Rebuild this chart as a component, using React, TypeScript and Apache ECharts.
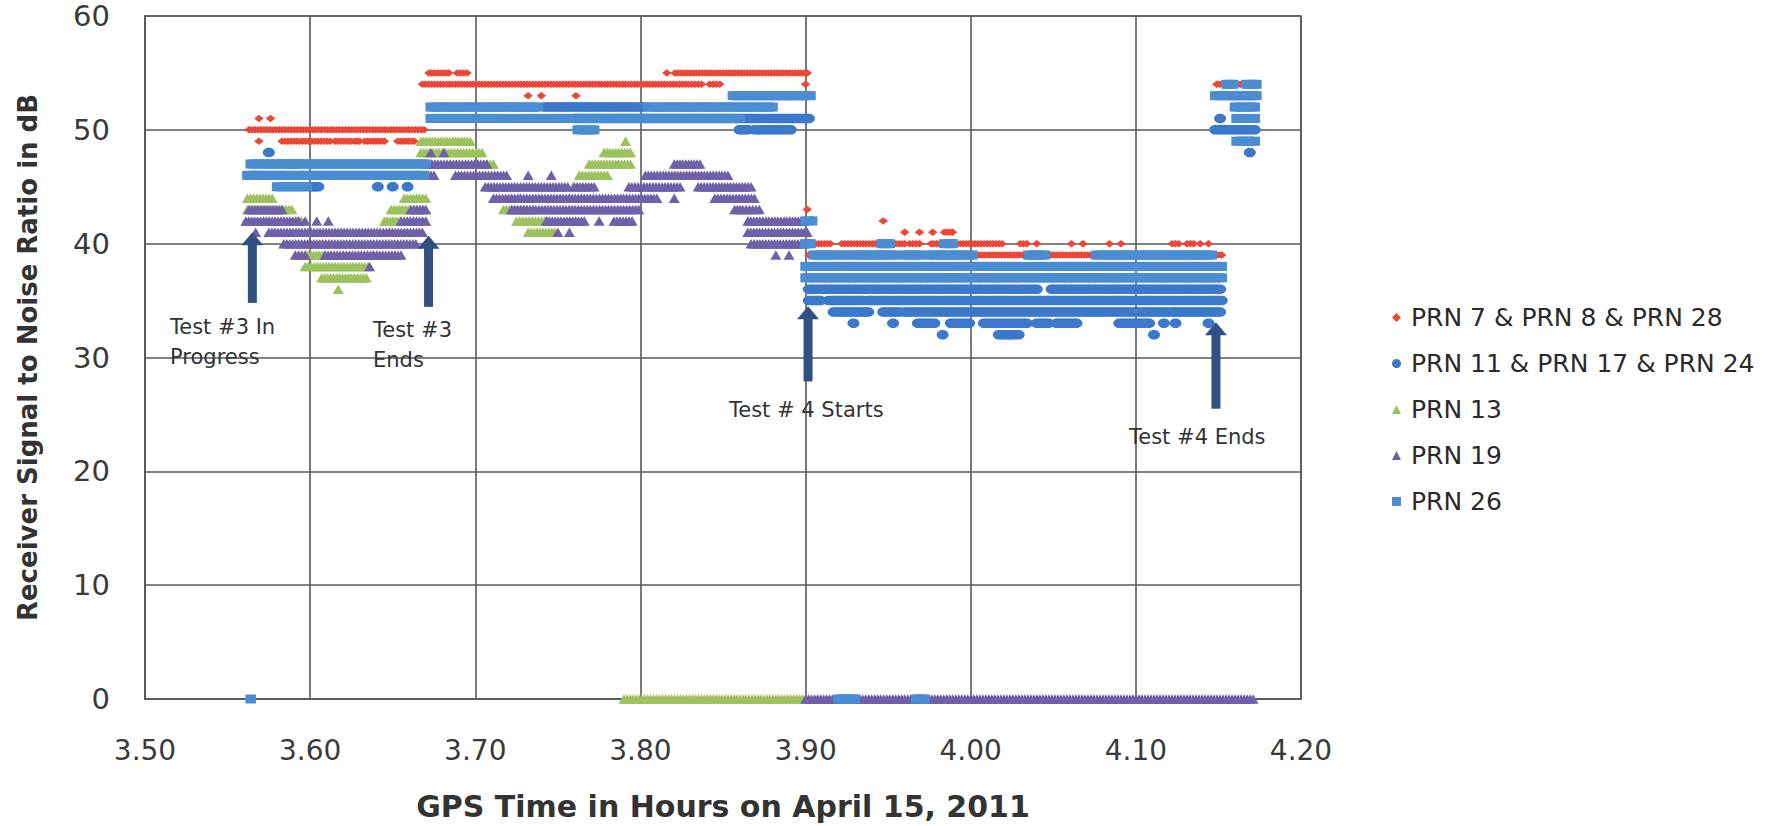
import React, { useEffect, useRef } from "react";
import * as echarts from "echarts";

// ---------- DATA ----------
// Each entry is a run of recorded samples: [start hour, end hour, SNR dB]
// (start === end means a single isolated sample).
const X_MIN = 3.5;
const X_MAX = 4.2;
const X_STEP = 0.1;
const Y_MIN = 0;
const Y_MAX = 60;
const Y_STEP = 10;

const SERIES_NAMES = [
  "PRN 7 & PRN 8 & PRN 28",
  "PRN 11 & PRN 17 & PRN 24",
  "PRN 13",
  "PRN 19",
  "PRN 26",
];

const PRN_7_8_28: number[][] = [
  [3.569, 3.569, 51], [3.576, 3.576, 51],
  [3.563, 3.669, 50],
  [3.569, 3.569, 49], [3.583, 3.599, 49], [3.601, 3.612, 49], [3.615, 3.625, 49],
  [3.627, 3.63, 49], [3.633, 3.645, 49], [3.653, 3.663, 49],
  [3.672, 3.684, 55], [3.689, 3.695, 55], [3.816, 3.816, 55], [3.821, 3.901, 55],
  [3.668, 3.829, 54], [3.831, 3.837, 54], [3.842, 3.848, 54], [3.9, 3.9, 54], [4.149, 4.165, 54],
  [3.732, 3.732, 53], [3.74, 3.74, 53], [3.761, 3.761, 53],
  [3.901, 3.901, 43],
  [3.947, 3.947, 42],
  [3.96, 3.96, 41], [3.969, 3.969, 41], [3.977, 3.977, 41], [3.984, 3.989, 41],
  [3.906, 3.915, 40], [3.922, 3.944, 40], [3.953, 3.96, 40], [3.963, 3.969, 40],
  [3.976, 3.981, 40], [3.99, 4.019, 40], [4.03, 4.034, 40], [4.04, 4.04, 40],
  [4.061, 4.061, 40], [4.068, 4.068, 40], [4.084, 4.084, 40], [4.091, 4.091, 40],
  [4.122, 4.126, 40], [4.131, 4.135, 40], [4.139, 4.139, 40], [4.144, 4.144, 40],
  [3.902, 3.902, 39], [3.918, 3.918, 39], [3.927, 3.927, 39], [3.955, 3.958, 39],
  [3.972, 3.972, 39], [4.001, 4.035, 39], [4.045, 4.076, 39], [4.097, 4.097, 39],
  [4.129, 4.129, 39], [4.139, 4.139, 39], [4.147, 4.152, 39],
];

const PRN_11_17_24: number[][] = [
  [3.575, 3.575, 48],
  [3.585, 3.593, 47],
  [3.6, 3.605, 45], [3.641, 3.641, 45], [3.65, 3.65, 45], [3.659, 3.659, 45],
  [3.742, 3.802, 52],
  [3.76, 3.902, 51],
  [3.86, 3.865, 50], [3.869, 3.891, 50],
  [3.902, 4.04, 36], [4.049, 4.094, 36], [4.096, 4.151, 36],
  [3.902, 3.909, 35], [3.914, 3.935, 35], [3.938, 4.152, 35],
  [3.917, 3.924, 34], [3.926, 3.938, 34], [3.947, 3.957, 34], [3.96, 3.965, 34],
  [3.967, 3.982, 34], [3.984, 4.081, 34], [4.083, 4.123, 34], [4.124, 4.151, 34],
  [3.929, 3.929, 33], [3.953, 3.953, 33], [3.968, 3.978, 33], [3.988, 3.999, 33],
  [4.008, 4.034, 33], [4.04, 4.047, 33], [4.052, 4.064, 33], [4.09, 4.108, 33],
  [4.117, 4.117, 33], [4.124, 4.124, 33], [4.144, 4.144, 33],
  [3.983, 3.983, 32], [4.017, 4.029, 32], [4.111, 4.111, 32],
  [4.151, 4.151, 51], [4.148, 4.172, 50], [4.169, 4.169, 48],
];

const PRN_13: number[][] = [
  [3.562, 3.577, 44], [3.657, 3.67, 44], [3.727, 3.727, 44], [3.757, 3.757, 44],
  [3.562, 3.589, 43], [3.649, 3.67, 43], [3.717, 3.735, 43],
  [3.592, 3.595, 42], [3.645, 3.655, 42], [3.725, 3.744, 42],
  [3.732, 3.748, 41],
  [3.597, 3.609, 39], [3.638, 3.638, 39],
  [3.597, 3.635, 38],
  [3.607, 3.634, 37],
  [3.617, 3.617, 36],
  [3.667, 3.697, 49], [3.791, 3.791, 49],
  [3.667, 3.704, 48], [3.778, 3.794, 48],
  [3.707, 3.711, 47], [3.769, 3.794, 47],
  [3.763, 3.78, 46],
  [3.759, 3.759, 45],
  [3.79, 3.9, 0],
];

const PRN_19: number[][] = [
  [3.563, 3.583, 43], [3.661, 3.67, 43], [3.722, 3.799, 43], [3.857, 3.862, 43], [3.864, 3.872, 43],
  [3.561, 3.593, 42], [3.597, 3.597, 42], [3.604, 3.604, 42], [3.611, 3.611, 42],
  [3.655, 3.67, 42], [3.743, 3.766, 42], [3.775, 3.775, 42], [3.784, 3.795, 42],
  [3.865, 3.885, 42], [3.887, 3.899, 42],
  [3.567, 3.567, 41], [3.575, 3.668, 41], [3.75, 3.75, 41], [3.757, 3.757, 41], [3.865, 3.901, 41],
  [3.584, 3.664, 40], [3.867, 3.899, 40],
  [3.591, 3.597, 39], [3.609, 3.655, 39], [3.882, 3.882, 39], [3.89, 3.89, 39],
  [3.636, 3.636, 38],
  [3.673, 3.673, 48], [3.681, 3.681, 48],
  [3.67, 3.707, 47], [3.8205, 3.836, 47],
  [3.668, 3.675, 46], [3.688, 3.719, 46], [3.732, 3.732, 46], [3.746, 3.746, 46], [3.803, 3.853, 46],
  [3.706, 3.756, 45], [3.76, 3.772, 45], [3.793, 3.824, 45], [3.835, 3.867, 45],
  [3.711, 3.81, 44], [3.8205, 3.8205, 44], [3.845, 3.869, 44],
  [3.9, 4.171, 0],
];

const PRN_26: number[][] = [
  [3.564, 3.614, 47], [3.616, 3.625, 47], [3.627, 3.67, 47],
  [3.562, 3.669, 46],
  [3.58, 3.598, 45],
  [3.673, 3.738, 52], [3.8045, 3.88, 52],
  [3.673, 3.86, 51],
  [3.762, 3.772, 50],
  [3.856, 3.903, 53],
  [3.9, 3.904, 42],
  [3.9, 3.903, 40], [3.946, 3.951, 40], [3.984, 3.989, 40],
  [3.905, 3.917, 39], [3.92, 3.926, 39], [3.929, 3.954, 39], [3.959, 3.97, 39],
  [3.975, 4.001, 39], [4.035, 4.045, 39], [4.076, 4.096, 39], [4.098, 4.128, 39],
  [4.13, 4.139, 39], [4.14, 4.146, 39],
  [3.9, 4.152, 38],
  [3.9, 4.1, 37], [4.102, 4.152, 37],
  [4.155, 4.159, 54], [4.167, 4.173, 54],
  [4.148, 4.173, 53],
  [4.16, 4.172, 52],
  [4.161, 4.172, 51],
  [4.161, 4.172, 49],
  [3.564, 3.564, 0], [3.92, 3.93, 0], [3.967, 3.972, 0],
];

// Annotation arrows: [hour, tip dB, tail dB]
const ARROWS: number[][] = [
  [3.565, 41.0, 34.8],
  [3.6717, 40.7, 34.45],
  [3.9015, 34.5, 27.9],
  [4.1485, 33.1, 25.5],
];

// ---------- STYLE ----------
const FONT = "DejaVu Sans";
const GRID_COLOR = "#5a5a5a";
const COLORS = ["#ec4638", "#3c78cc", "#9cc25e", "#7060aa", "#4a8dd3"];
const SPACING_PX = 3;

function shapeEl(kind: string, cx: number, cy: number, w: number, h: number, fill: string) {
  if (kind === "circle") {
    return { type: "ellipse", shape: { cx, cy, rx: w / 2, ry: h / 2 }, style: { fill } };
  }
  if (kind === "rect") {
    return { type: "rect", shape: { x: cx - w / 2, y: cy - h / 2, width: w, height: h }, style: { fill } };
  }
  if (kind === "diamond") {
    return {
      type: "polygon",
      shape: { points: [[cx, cy - h / 2], [cx + w / 2, cy], [cx, cy + h / 2], [cx - w / 2, cy]] },
      style: { fill },
    };
  }
  return {
    type: "polygon",
    shape: { points: [[cx, cy - h / 2], [cx + w / 2, cy + h / 2], [cx - w / 2, cy + h / 2]] },
    style: { fill },
  };
}

function runRenderer(kind: string, w: number, h: number, fill: string) {
  return (_params: any, api: any) => {
    const x0 = api.value(0);
    const x1 = api.value(1);
    const y = api.value(2);
    const a = api.coord([x0, y]);
    const b = api.coord([x1, y]);
    const span = b[0] - a[0];
    const n = Math.max(0, Math.round(span / SPACING_PX));
    const children: any[] = [];
    for (let i = 0; i <= n; i++) {
      const cx = n === 0 ? a[0] : a[0] + (span * i) / n;
      children.push(shapeEl(kind, cx, a[1], w, h, fill));
    }
    return { type: "group", children };
  };
}

function arrowRenderer(_params: any, api: any) {
  const x = api.value(0);
  const tip = api.coord([x, api.value(1)]);
  const tail = api.coord([x, api.value(2)]);
  const headW = 22;
  const headH = 13;
  const shaftW = 9;
  const fill = "#2f5080";
  return {
    type: "group",
    children: [
      {
        type: "rect",
        shape: { x: tip[0] - shaftW / 2, y: tip[1] + headH - 1, width: shaftW, height: tail[1] - tip[1] - headH + 1 },
        style: { fill },
      },
      {
        type: "polygon",
        shape: { points: [[tip[0], tip[1]], [tip[0] + headW / 2, tip[1] + headH], [tip[0] - headW / 2, tip[1] + headH]] },
        style: { fill },
      },
    ],
  };
}

const RUNS = [PRN_7_8_28, PRN_11_17_24, PRN_13, PRN_19, PRN_26];
const SIZES: number[][] = [[9.5, 7.5], [12, 9.5], [11, 9.5], [11, 9.5], [10.5, 9]];
const KINDS = ["diamond", "circle", "triangle", "triangle", "rect"];
const LEGEND_ICONS = ["diamond", "circle", "triangle", "triangle", "rect"];

export default function App() {
  const ref = useRef<HTMLDivElement>(null);

  useEffect(() => {
    if (!ref.current) return;
    const chart = echarts.init(ref.current, null, { renderer: "svg" });

    const dataSeries = SERIES_NAMES.map((name, i) => ({
      name,
      type: "custom",
      data: RUNS[i],
      encode: { x: [0, 1], y: 2 },
      itemStyle: { color: COLORS[i] },
      renderItem: runRenderer(KINDS[i], SIZES[i][0], SIZES[i][1], COLORS[i]),
      clip: false,
      silent: true,
      z: 2 + i,
    }));

    const annotationTextStyle = { fontFamily: FONT, fontSize: 21, fill: "#333333" };
    const label = (text: string, x: number, y: number) => ({
      type: "text",
      x,
      y,
      z: 10,
      style: { ...annotationTextStyle, text, verticalAlign: "middle", align: "left" },
    });

    chart.setOption({
      animation: false,
      backgroundColor: "#ffffff",
      grid: {
        left: 145,
        top: 16,
        width: 1156,
        height: 686,
        show: true,
        borderColor: GRID_COLOR,
        borderWidth: 1.6,
        backgroundColor: "transparent",
      },
      xAxis: {
        type: "value",
        min: X_MIN,
        max: X_MAX,
        interval: X_STEP,
        name: "GPS Time in Hours on April 15, 2011",
        nameLocation: "middle",
        nameGap: 92,
        nameTextStyle: { fontFamily: FONT, fontSize: 30, fontWeight: "bold", color: "#333333" },
        axisLine: { show: true, lineStyle: { color: GRID_COLOR, width: 1.6 } },
        axisTick: { show: false },
        axisLabel: {
          margin: 37,
          fontFamily: FONT,
          fontSize: 28,
          color: "#3a3a3a",
          formatter: (v: number) => v.toFixed(2),
        },
        splitLine: { show: true, lineStyle: { color: GRID_COLOR, width: 1.6 } },
      },
      yAxis: {
        type: "value",
        min: Y_MIN,
        max: Y_MAX,
        interval: Y_STEP,
        name: "Receiver Signal to Noise Ratio in dB",
        nameLocation: "middle",
        nameRotate: 90,
        nameGap: 104,
        nameTextStyle: { fontFamily: FONT, fontSize: 26, fontWeight: "bold", color: "#333333" },
        axisLine: { show: true, lineStyle: { color: GRID_COLOR, width: 1.6 } },
        axisTick: { show: false },
        axisLabel: { margin: 35, fontFamily: FONT, fontSize: 29, color: "#3a3a3a" },
        splitLine: { show: true, lineStyle: { color: GRID_COLOR, width: 1.6 } },
      },
      legend: {
        orient: "vertical",
        left: 1387,
        top: 300,
        itemWidth: 9,
        itemHeight: 9,
        itemGap: 21,
        selectedMode: false,
        textStyle: { fontFamily: FONT, fontSize: 25, color: "#2a2a2a", padding: [0, 0, 0, 5] },
        data: SERIES_NAMES.map((name, i) => ({ name, icon: LEGEND_ICONS[i] })),
      },
      graphic: [
        label("Test #3 In", 170, 327),
        label("Progress", 170, 357),
        label("Test #3", 373, 330),
        label("Ends", 373, 360),
        label("Test # 4 Starts", 729, 410),
        label("Test #4 Ends", 1129, 437),
      ],
      series: [
        ...dataSeries,
        {
          name: "annotations",
          type: "custom",
          data: ARROWS,
          encode: { x: 0, y: [1, 2] },
          renderItem: arrowRenderer,
          clip: false,
          silent: true,
          z: 9,
        },
      ],
    });

    return () => chart.dispose();
  }, []);

  return (
    <div
      ref={ref}
      style={{ position: "fixed", left: 0, top: 0, width: 1775, height: 826, background: "#ffffff" }}
    />
  );
}
